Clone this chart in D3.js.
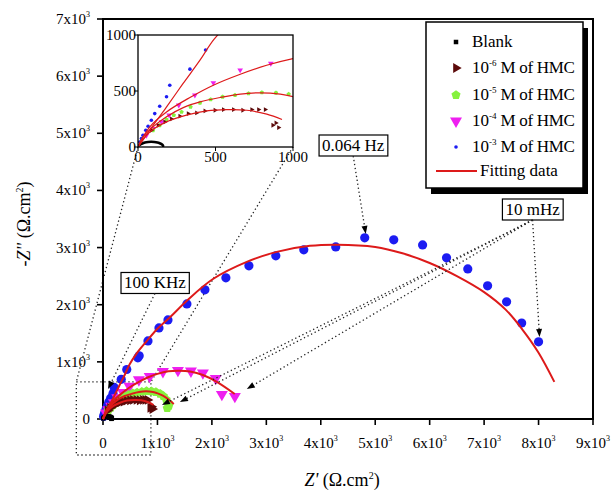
<!DOCTYPE html>
<html>
<head>
<meta charset="utf-8">
<script src="https://cdn.jsdelivr.net/npm/d3@7"></script>
<style>
  body { margin: 0; background: #fff; }
  svg { display: block; }
  svg text { font-family: "Liberation Serif", "DejaVu Serif", "Times New Roman", serif; fill: #000; }
</style>
</head>
<body>
<svg id="chart" width="612" height="490" font-family="Liberation Serif, DejaVu Serif, serif"></svg>
<script>
// Nyquist data, [Z', -Z''] in ohm.cm2
var blank = [[5,10],[15,22],[30,32],[45,40],[65,45],[85,47],[105,45],[125,40],[140,33],[152,25],[160,16],[162,8],[155,3]];
var hmc6 = [[86,149],[130,194],[173,224],[216,251],[270,275],[324,298],[378,304],[432,322],[497,328],[551,334],[616,334],[676,328],[734,334],[778,334],[821,334],[870,194],[907,173],[890,215]];
var hmc5 = [[97,149],[140,194],[184,245],[231,284],[281,313],[339,358],[400,394],[469,424],[546,448],[626,463],[713,478],[799,487],[890,484],[972,472],[1050,440],[1110,400],[1160,340],[1200,280],[1210,230],[1180,190]];
var hmc4 = [[54,104],[97,164],[151,224],[201,284],[263,373],[367,463],[486,573],[659,687],[857,746],[1101,830],[1376,850],[1615,840],[1835,806],[2070,710],[2183,430],[2422,395]];
var hmc3 = [[11,45],[22,75],[32,104],[50,149],[65,185],[86,239],[108,298],[140,364],[184,448],[205,552],[335,695],[436,866],[640,1070],[665,1105],[826,1366],[1028,1594],[1193,1734],[1541,2014],[1872,2260],[2257,2470],[2680,2680],[3174,2855],[3688,2960],[4275,3012],[4807,3170],[5340,3135],[5870,3047],[6310,2820],[6700,2627],[7064,2330],[7413,2050],[7690,1680],[8000,1350]];

// fitted curves
var fit6 = [[0,0],[76,134],[184,224],[313,284],[443,322],[572,334],[702,328],[831,293],[929,245]];
var fit5 = [[0,0],[32,90],[97,180],[184,270],[292,352],[400,403],[530,442],[660,472],[790,484],[918,472],[1004,448],[1100,410],[1200,345],[1300,263]];
var fit4 = [[0,0],[76,180],[184,313],[335,442],[486,552],[660,650],[830,730],[1000,790],[1200,835],[1400,845],[1600,830],[1835,770],[2090,650],[2420,438]];
var fit3 = [[0,0],[80,160],[180,350],[290,565],[400,775],[490,960],[620,1150],[800,1360],[1000,1580],[1230,1780],[1540,2070],[2020,2450],[2640,2750],[3190,2925],[3800,3030],[4300,3050],[5000,3010],[5500,2900],[6000,2730],[6500,2500],[7000,2220],[7400,1910],[7700,1570],[8000,1160],[8290,650]];

var xTicks = [0,1000,2000,3000,4000,5000,6000,7000,8000,9000];
var yTicks = [0,1000,2000,3000,4000,5000,6000,7000];
var insetTicks = [0,500,1000];
var legendLabels = ["Blank", "-6", "-5", "-4", "-3", "Fitting data"];

// frequency call-outs: label position and arrow tips, in data units
var callouts = [
  { text: "0.064 Hz", at: [4596, 4795], tips: [[4826, 3238]] },
  { text: "10 mHz", at: [7890, 3675], tips: [[8018, 1435], [2642, 525], [1413, 298], [1083, 245]] },
  { text: "100 KHz", at: [954, 2389], tips: [[92, 525]] }
];

var svg = d3.select("#chart");
var RED = "#dd1a1a";
var colors = { blank: "#000", h6: "#5c0a0a", h5: "#86f23e", h4: "#ee1ff0", h3: "#1c1cf2" };

var x = d3.scaleLinear().domain([0, 9000]).range([103, 593]);
var y = d3.scaleLinear().domain([0, 7000]).range([419, 19]);
var xi = d3.scaleLinear().domain([0, 1000]).range([138, 293]);
var yi = d3.scaleLinear().domain([0, 1000]).range([147, 35]);

function pentagon(r) {
  var p = d3.path();
  for (var i = 0; i < 5; i++) {
    var a = -Math.PI / 2 + i * 2 * Math.PI / 5;
    if (i === 0) p.moveTo(r * Math.cos(a), r * Math.sin(a));
    else p.lineTo(r * Math.cos(a), r * Math.sin(a));
  }
  p.closePath();
  return p.toString();
}

function markers(g, data, sx, sy, kind, big) {
  var sel = g.selectAll(null).data(data).enter();
  if (kind === "circle") {
    sel.append("circle").attr("cx", function(d) { return sx(d[0]); }).attr("cy", function(d) { return sy(d[1]); })
      .attr("r", big ? 4.6 : 1.8).attr("fill", colors.h3);
  } else if (kind === "square") {
    var s = big ? 4.5 : 2.5;
    sel.append("rect").attr("x", function(d) { return sx(d[0]) - s / 2; }).attr("y", function(d) { return sy(d[1]) - s / 2; })
      .attr("width", s).attr("height", s).attr("fill", colors.blank);
  } else {
    var path, rot, fill;
    if (kind === "tri-down") { path = d3.symbol(d3.symbolTriangle, big ? 62 : 14)(); rot = 180; fill = colors.h4; }
    if (kind === "tri-right") { path = d3.symbol(d3.symbolTriangle, big ? 42 : 10)(); rot = 90; fill = colors.h6; }
    if (kind === "pent") { path = pentagon(big ? 4.8 : 2.3); rot = 0; fill = colors.h5; }
    sel.append("path").attr("d", path).attr("fill", fill)
      .attr("transform", function(d) { return "translate(" + sx(d[0]) + "," + sy(d[1]) + ") rotate(" + rot + ")"; });
  }
}

function fitLine(g, data, sx, sy, w) {
  var line = d3.line().x(function(d) { return sx(d[0]); }).y(function(d) { return sy(d[1]); }).curve(d3.curveCatmullRom);
  g.append("path").attr("d", line(data)).attr("fill", "none").attr("stroke", RED).attr("stroke-width", w);
}

function sciLabel(t, v) {
  if (v === 0) { t.text("0"); return; }
  t.append("tspan").text((v / 1000) + "x10");
  t.append("tspan").attr("dy", -7).attr("font-size", 8).text("3");
}

// ---------- dotted helper lines ----------
var dots = svg.append("g").attr("fill", "none").attr("stroke", "#222").attr("stroke-width", 1.3).attr("stroke-dasharray", "1.3,2.7");
// zoom rectangle and connectors to the inset
dots.append("rect").attr("x", x(-490)).attr("y", y(650)).attr("width", x(880) - x(-490)).attr("height", y(-630) - y(650));
dots.append("line").attr("x1", xi(0)).attr("y1", yi(0)).attr("x2", x(-490)).attr("y2", y(650));
dots.append("line").attr("x1", xi(1000)).attr("y1", yi(0)).attr("x2", x(880)).attr("y2", y(650));

// ---------- main frame ----------
var main = svg.append("g");
main.append("rect").attr("x", x(0)).attr("y", y(7000)).attr("width", x(9000) - x(0)).attr("height", y(0) - y(7000))
  .attr("fill", "none").attr("stroke", "#000").attr("stroke-width", 2);

xTicks.forEach(function(v) {
  main.append("line").attr("x1", x(v)).attr("x2", x(v)).attr("y1", y(0)).attr("y2", y(0) + 6).attr("stroke", "#000").attr("stroke-width", 1.6);
  var t = main.append("text").attr("x", x(v)).attr("y", 448).attr("text-anchor", "middle").attr("font-size", 15);
  sciLabel(t, v);
});
yTicks.forEach(function(v) {
  main.append("line").attr("x1", x(0) - 6).attr("x2", x(0)).attr("y1", y(v)).attr("y2", y(v)).attr("stroke", "#000").attr("stroke-width", 1.6);
  var t = main.append("text").attr("x", 90).attr("y", y(v) + 5).attr("text-anchor", "end").attr("font-size", 15);
  sciLabel(t, v);
});

var xt = svg.append("text").attr("x", 342).attr("y", 486).attr("text-anchor", "middle").attr("font-size", 18);
xt.append("tspan").attr("font-style", "italic").text("Z'");
xt.append("tspan").text(" (\u03A9.cm");
xt.append("tspan").attr("dy", -7).attr("font-size", 10).text("2");
xt.append("tspan").attr("dy", 7).text(")");

var yt = svg.append("text").attr("transform", "translate(30,224) rotate(-90)").attr("text-anchor", "middle").attr("font-size", 18);
yt.append("tspan").attr("font-style", "italic").text("-Z''");
yt.append("tspan").text(" (\u03A9.cm");
yt.append("tspan").attr("dy", -7).attr("font-size", 10).text("2");
yt.append("tspan").attr("dy", 7).text(")");

// ---------- main data ----------
var plot = svg.append("g");
markers(plot, hmc3, x, y, "circle", true);
markers(plot, hmc4, x, y, "tri-down", true);
markers(plot, hmc5, x, y, "pent", true);
markers(plot, hmc6, x, y, "tri-right", true);
markers(plot, blank, x, y, "square", true);
fitLine(plot, fit3, x, y, 2);
fitLine(plot, fit4, x, y, 2);
fitLine(plot, fit5, x, y, 2);
fitLine(plot, fit6, x, y, 2);

// ---------- call-outs ----------
var co = svg.append("g");
callouts.forEach(function(c) {
  var cx = x(c.at[0]), cy = y(c.at[1]);
  var t = co.append("text").attr("x", cx).attr("y", cy + 6).attr("text-anchor", "middle").attr("font-size", 17).text(c.text);
  var bb = t.node().getBBox();
  var bottom = bb.y + bb.height + 1;
  co.insert("rect", "text").attr("x", bb.x - 3).attr("y", bb.y - 1).attr("width", bb.width + 6).attr("height", bb.height + 2)
    .attr("fill", "#fff").attr("stroke", "#000").attr("stroke-width", 1.2);
  c.tips.forEach(function(tp) {
    var tx = x(tp[0]), ty = y(tp[1]);
    var ang = Math.atan2(ty - bottom, tx - cx);
    var L = 8, W = 3;
    var bx = tx - L * Math.cos(ang), by = ty - L * Math.sin(ang);
    co.append("line").attr("x1", cx).attr("y1", bottom).attr("x2", bx).attr("y2", by)
      .attr("stroke", "#222").attr("stroke-width", 1.3).attr("stroke-dasharray", "1.3,2.7");
    var px = -Math.sin(ang) * W, py = Math.cos(ang) * W;
    co.append("path").attr("d", "M" + tx + "," + ty + "L" + (bx + px) + "," + (by + py) + "L" + (bx - px) + "," + (by - py) + "Z").attr("fill", "#000");
  });
});

// ---------- inset ----------
var inset = svg.append("g");
inset.append("rect").attr("x", xi(0)).attr("y", yi(1000)).attr("width", xi(1000) - xi(0)).attr("height", yi(0) - yi(1000)).attr("fill", "#fff");
svg.append("clipPath").attr("id", "insetClip").append("rect")
  .attr("x", xi(0)).attr("y", yi(1000)).attr("width", xi(1000) - xi(0)).attr("height", yi(0) - yi(1000));
var ip = inset.append("g").attr("clip-path", "url(#insetClip)");
markers(ip, hmc3, xi, yi, "circle", false);
markers(ip, hmc4, xi, yi, "tri-down", false);
markers(ip, hmc5, xi, yi, "pent", false);
markers(ip, hmc6, xi, yi, "tri-right", false);
var blankLine = d3.line().x(function(d) { return xi(d[0]); }).y(function(d) { return yi(d[1]); }).curve(d3.curveCatmullRom);
ip.append("path").attr("d", blankLine(blank)).attr("fill", "none").attr("stroke", "#000").attr("stroke-width", 2.6);
fitLine(ip, fit3, xi, yi, 1.2);
fitLine(ip, fit4, xi, yi, 1.2);
fitLine(ip, fit5, xi, yi, 1.2);
fitLine(ip, fit6, xi, yi, 1.2);
inset.append("rect").attr("x", xi(0)).attr("y", yi(1000)).attr("width", xi(1000) - xi(0)).attr("height", yi(0) - yi(1000))
  .attr("fill", "none").attr("stroke", "#000").attr("stroke-width", 1.3);
insetTicks.forEach(function(v) {
  inset.append("line").attr("x1", xi(v)).attr("x2", xi(v)).attr("y1", yi(0)).attr("y2", yi(0) + 4).attr("stroke", "#000");
  inset.append("line").attr("x1", xi(0) - 4).attr("x2", xi(0)).attr("y1", yi(v)).attr("y2", yi(v)).attr("stroke", "#000");
  inset.append("text").attr("x", xi(v)).attr("y", yi(0) + 15).attr("text-anchor", "middle").attr("font-size", 15).text(v);
  inset.append("text").attr("x", xi(0) - 2).attr("y", yi(v) + 5).attr("text-anchor", "end").attr("font-size", 15).text(v);
});

// ---------- legend ----------
var lg = svg.append("g");
lg.append("rect").attr("x", 431).attr("y", 28).attr("width", 157).attr("height", 166).attr("fill", "#000");
lg.append("rect").attr("x", 426).attr("y", 22).attr("width", 157).attr("height", 166).attr("fill", "#fff").attr("stroke", "#000").attr("stroke-width", 1.5);
var rowY = [42, 68, 95, 121, 147, 171];
var kinds = ["square", "tri-right", "pent", "tri-down", "circle"];
legendLabels.forEach(function(lab, i) {
  var ry = rowY[i];
  if (i < 5) {
    var sx = d3.scaleLinear().domain([0, 1]).range([456, 457]);
    var sy = d3.scaleLinear().domain([0, 1]).range([ry, ry + 1]);
    markers(lg, [[0, 0]], sx, sy, kinds[i], i !== 4);
  } else {
    lg.append("line").attr("x1", 436).attr("x2", 477).attr("y1", ry).attr("y2", ry).attr("stroke", RED).attr("stroke-width", 2);
  }
  var t = lg.append("text").attr("x", i === 5 ? 480 : 472).attr("y", ry + 5).attr("font-size", 17);
  if (i === 0 || i === 5) { t.text(lab); return; }
  t.append("tspan").text("10");
  t.append("tspan").attr("dy", -7).attr("font-size", 9).text(lab);
  t.append("tspan").attr("dy", 7).attr("letter-spacing", -0.3).text(" M of HMC");
});
</script>
</body>
</html>
